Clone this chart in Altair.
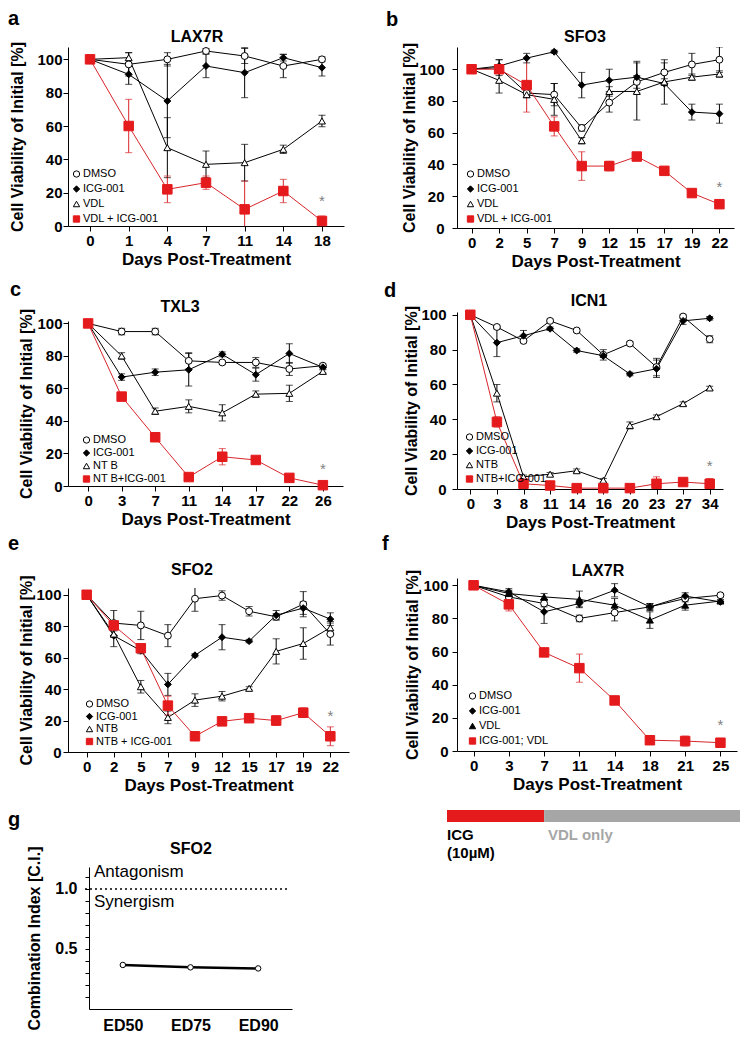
import altair as alt
import pandas as pd

FONT = "Liberation Sans"
RED = "#e41a1c"
RED_LINE = "#d7262b"
STAR_GRAY = "#808080"

# ---------------- Panel a : LAX7R ----------------
a_days = ["0", "1", "4", "7", "11", "14", "18"]
a_names = ["DMSO", "ICG-001", "VDL", "VDL + ICG-001"]
a_dmso = [100, 97, 100, 105, 102, 96, 100]
a_dmso_err = [0, 7, 4, 1.5, 4.5, 7, 1.5]
a_icg = [100, 91, 75, 96, 92, 101, 95]
a_icg_err = [0, 6, 22, 7, 15, 2, 5]
a_vdl = [100, 101, 47, 37, 38, 46, 63]
a_vdl_err = [0, 3, 18, 8, 11, 2.5, 3.5]
a_comb = [100, 60, 22, 26, 10, 21, 3]
a_comb_err = [0, 16, 8, 4, 17, 7, 3]
a_star = 15

# ---------------- Panel b : SFO3 ----------------
b_days = ["0", "2", "5", "7", "9", "12", "15", "17", "19", "22"]
b_names = ["DMSO", "ICG-001", "VDL", "VDL + ICG-001"]
b_dmso = [100, 101, 85, 84, 63, 79, 92, 98, 103, 106]
b_dmso_err = [0, 5, 2, 7, 2, 6, 4, 8, 7, 8]
b_icg = [100, 102, 107, 111, 90, 93, 95, 91, 73, 72]
b_icg_err = [0, 4, 3, 1, 8, 7, 10, 13, 5, 6]
b_vdl = [100, 93, 84, 81, 55, 86, 86, 92, 95, 97]
b_vdl_err = [0, 8, 2, 10, 2, 3, 18, 2, 2, 2]
b_comb = [100, 100, 90, 64, 39, 39, 45, 36, 22, 15]
b_comb_err = [0, 2, 17, 6, 9, 3, 1.5, 1.5, 1, 1]
b_star = 26

# ---------------- Panel c : TXL3 ----------------
c_days = ["0", "3", "7", "11", "14", "17", "22", "26"]
c_names = ["DMSO", "ICG-001", "NT B", "NT B+ICG-001"]
c_dmso = [100, 95, 95, 77, 76, 76, 72, 74]
c_dmso_err = [0, 2, 2, 5, 1, 3, 4, 1]
c_icg = [100, 67, 70, 71.5, 81, 68.5, 81.5, 73]
c_icg_err = [0, 2, 2, 10, 1.5, 4, 6, 1]
c_ntb = [100, 80, 46, 49, 45, 56.5, 57, 70.5]
c_ntb_err = [0, 2, 2, 4, 5, 2, 5, 1]
c_comb = [100, 55, 30, 5.5, 18, 16, 5, 0.5]
c_comb_err = [0, 1, 1, 1, 5, 1, 1, 0.5]
c_star = 10.5

# ---------------- Panel d : ICN1 ----------------
d_days = ["0", "3", "8", "11", "14", "16", "20", "23", "27", "34"]
d_names = ["DMSO", "ICG-001", "NTB", "NTB+ICG-001"]
d_dmso = [100, 93, 85, 96.5, 91, 77, 83.5, 70, 99, 86]
d_dmso_err = [0, 1, 1, 1, 1, 3, 1, 5, 1, 2]
d_icg = [100, 84, 88, 92, 79.5, 76.5, 66, 69, 96.5, 98]
d_icg_err = [0, 8, 3, 1, 1, 1, 1, 5, 2, 1]
d_ntb = [100, 55, 7, 8.5, 10.5, 5, 36.5, 41.5, 49, 58]
d_ntb_err = [0, 5, 1, 1, 1, 1, 2, 1, 1, 1]
d_comb = [100, 38.5, 3, 2, 0.5, 0.5, 0.5, 3, 4, 3]
d_comb_err = [0, 3, 1, 1, 0, 0, 0, 4, 1, 3]
d_star = 13

# ---------------- Panel e : SFO2 ----------------
e_days = ["0", "2", "5", "7", "9", "12", "15", "17", "19", "22"]
e_names = ["DMSO", "ICG-001", "NTB", "NTB + ICG-001"]
e_dmso = [100, 82, 80.5, 74, 97.5, 99.5, 89.5, 86, 94, 75]
e_dmso_err = [0, 8, 9, 7, 8, 3, 3, 2, 8, 7]
e_icg = [100, 74, 64.5, 43, 61.5, 73, 70.5, 87, 91.5, 84.5]
e_icg_err = [0, 7, 2, 7, 1, 8, 1, 3, 4, 4]
e_ntb = [100, 75, 41.5, 22, 33, 35.5, 40.5, 64, 69, 79]
e_ntb_err = [0, 2, 4, 4, 4, 3, 1, 8, 10, 4]
e_comb = [100, 80.5, 66, 29.5, 10, 19.5, 21.5, 20, 25, 10]
e_comb_err = [0, 2, 2, 6, 1, 2, 1.5, 3, 3, 6]
e_star = 23

# ---------------- Panel f : LAX7R ----------------
f_days = ["0", "3", "7", "11", "14", "18", "21", "25"]
f_names = ["DMSO", "ICG-001", "VDL", "ICG-001; VDL"]
f_dmso = [100, 93, 89, 80, 83.5, 87, 92, 94]
f_dmso_err = [0, 1, 2, 2, 5, 2, 2, 1]
f_icg = [100, 96, 84, 89, 97, 87, 93.5, 90]
f_icg_err = [0, 2, 7, 2, 4, 2, 2, 1]
f_vdl = [100, 95, 93, 91.5, 88, 79, 88, 90.5]
f_vdl_err = [0, 2, 2, 5, 4, 5, 3, 1]
f_comb = [100, 88.5, 59.5, 50, 30.5, 6.5, 6, 5]
f_comb_err = [0, 4, 2, 8.5, 1, 1, 3, 1]
f_star = 15.5
f_icg_until = ["7"]          # ICG-001 treatment period ends at day 7

# ---------------- Panel g : SFO2 combination index ----------------
g_keys = ["ED50", "ED75", "ED90"]
g_ci = [0.367, 0.347, 0.338]
g_threshold = [1.0]

SHAPES = ["circle", "diamond", "triangle-up", "square"]
FILLS = ["white", "black", "white", RED]
FILLS_F = ["white", "black", "black", RED]
STROKES = ["black", "black", "black", RED]
LINE_COLORS = ["black", "black", "black", RED_LINE]

YTICKS = [0, 20, 40, 60, 80, 100]


def txt(s, x, y, size, weight="bold", align="left", color="black", baseline="alphabetic", opacity=1):
    return alt.Chart(pd.DataFrame({"t": [s]})).mark_text(
        align=align, baseline=baseline, fontSize=size, fontWeight=weight,
        font=FONT, color=color, opacity=opacity
    ).encode(x=alt.value(x), y=alt.value(y), text="t:N")


def panel(days, names, vals, errs, star, letter, title, W, H, ymax, pad,
          letter_xy, title_xy, top, leg_xy, leg_row, lab_pad, ttl_pad,
          fills=FILLS, extra=None):
    rows = []
    for si, (n, v, e) in enumerate(zip(names, vals, errs)):
        for i, (d, vv, ee) in enumerate(zip(days, v, e)):
            rows.append({"d": d, "i": i, "s": n, "lc": LINE_COLORS[si], "v": vv,
                         "lo": vv - ee, "hi": vv + ee, "e": ee})
    df = pd.DataFrame(rows)
    edf = df[df.e > 0]

    xaxis = alt.Axis(title="Days Post-Treatment", labelAngle=0, labelFontSize=15,
                     labelFontWeight="bold", tickSize=5, labelPadding=2,
                     titleFontSize=17, titleFontWeight="bold", titlePadding=3,
                     labelOverlap=False)
    yaxis = alt.Axis(title="Cell Viability of Initial [%]", values=YTICKS,
                     labelFontSize=15, labelFontWeight="bold", tickSize=5,
                     labelPadding=lab_pad, titleFontSize=16, titleFontWeight="bold",
                     titlePadding=ttl_pad)
    xs = alt.Scale(type="point", domain=days, padding=pad)
    ys = alt.Scale(domain=[0, ymax], nice=False)

    def X():
        return alt.X("d:O", scale=xs, axis=xaxis)

    def Y(f):
        return alt.Y(f + ":Q", scale=ys, axis=yaxis)

    col = alt.Color("lc:N", scale=None)
    leg = alt.Legend(title=None, orient="none", legendX=leg_xy[0], legendY=leg_xy[1],
                     labelFont=FONT, labelFontSize=11, symbolSize=40, symbolStrokeWidth=1,
                     rowPadding=leg_row, padding=0, labelOffset=1, offset=0)

    lines = alt.Chart(df).mark_line(strokeWidth=1).encode(
        x=X(), y=Y("v"), color=col, detail="s:N", order=alt.Order("i:Q"))
    bars = alt.Chart(edf).mark_rule(strokeWidth=1, clip=True).encode(
        x=X(), y=Y("lo"), y2="hi:Q", color=col)
    cap_lo = alt.Chart(edf).mark_tick(orient="horizontal", size=7, thickness=1, clip=True).encode(
        x=X(), y=Y("lo"), color=col)
    cap_hi = alt.Chart(edf).mark_tick(orient="horizontal", size=7, thickness=1, clip=True).encode(
        x=X(), y=Y("hi"), color=col)
    pts = alt.Chart(df).mark_point(opacity=1, strokeWidth=1).encode(
        x=X(), y=Y("v"),
        shape=alt.Shape("s:N", scale=alt.Scale(domain=names, range=SHAPES), legend=leg),
        fill=alt.Fill("s:N", scale=alt.Scale(domain=names, range=fills), legend=leg),
        stroke=alt.Stroke("s:N", scale=alt.Scale(domain=names, range=STROKES), legend=leg),
        size=alt.condition(f"datum.s == '{names[3]}'", alt.value(90), alt.value(48)),
    )
    st = alt.Chart(pd.DataFrame({"d": [days[-1]], "v": [star]})).mark_text(
        text="*", fontSize=15, color=STAR_GRAY, baseline="middle", font=FONT
    ).encode(x=X(), y=Y("v"))

    layers = [lines, bars, cap_lo, cap_hi, pts, st,
              txt(letter, letter_xy[0], letter_xy[1], 20),
              txt(title, title_xy[0], title_xy[1], 16, align="center"),
              txt(".", W / 2, -top, 4, baseline="top", opacity=0)]
    if extra:
        layers += extra
    return alt.layer(*layers).properties(width=W, height=H)


pa = panel(a_days, a_names, [a_dmso, a_icg, a_vdl, a_comb],
           [a_dmso_err, a_icg_err, a_vdl_err, a_comb_err], a_star,
           "a", "LAX7R", 276, 179, 107.4, 0.57, (-60, -22), (129, -5), 39,
           (3, 121.5), 3, 1, 11)
pb = panel(b_days, b_names, [b_dmso, b_icg, b_vdl, b_comb],
           [b_dmso_err, b_icg_err, b_vdl_err, b_comb_err], b_star,
           "b", "SFO3", 277, 181, 114, 0.53, (-71, -21), (128, -5), 39,
           (8, 121.5), 3, 8, 1)
pc = panel(c_days, c_names, [c_dmso, c_icg, c_ntb, c_comb],
           [c_dmso_err, c_icg_err, c_ntb_err, c_comb_err], c_star,
           "c", "TXL3", 275, 165, 101.5, 0.6, (-58, -25), (112, -9), 54,
           (13, 113.5), 1, 1, 2)
pd_ = panel(d_days, d_names, [d_dmso, d_icg, d_ntb, d_comb],
            [d_dmso_err, d_icg_err, d_ntb_err, d_comb_err], d_star,
            "d", "ICN1", 266, 177, 101.6, 0.5, (-73, -15), (132, -6), 43,
            (7, 119.5), 2, 6, 1)
pe = panel(e_days, e_names, [e_dmso, e_icg, e_ntb, e_comb],
           [e_dmso_err, e_icg_err, e_ntb_err, e_comb_err], e_star,
           "e", "SFO2", 281, 164, 104.3, 0.69, (-60, -38), (124, -13), 61,
           (16, 110.5), 0.5, 2, 1)

# treatment bar under panel f
f_bar_df = pd.DataFrame({"d": f_icg_until})
f_xs = alt.Scale(type="point", domain=f_days, padding=0.47)
f_red = alt.Chart(f_bar_df).mark_rect(color=RED).encode(
    x=alt.X("d:O", scale=f_xs), x2=alt.value(-10), y=alt.value(232), y2=alt.value(244))
f_gray = alt.Chart(f_bar_df).mark_rect(color="#a6a6a6").encode(
    x=alt.X("d:O", scale=f_xs), x2=alt.value(283), y=alt.value(232), y2=alt.value(244))
f_extra = [f_red, f_gray,
           txt("ICG", -10, 262, 15),
           txt("(10\u00b5M)", -10, 280, 15),
           txt("VDL only", 91, 262, 15, color="#a6a6a6")]

pf = panel(f_days, f_names, [f_dmso, f_icg, f_vdl, f_comb],
           [f_dmso_err, f_icg_err, f_vdl_err, f_comb_err], f_star,
           "f", "LAX7R", 280, 173, 104.4, 0.47, (-75, -28), (141, -2), 48,
           (10, 112.5), 3, 4, 2, fills=FILLS_F, extra=f_extra)

# ---------------- panel g ----------------
g_df = pd.DataFrame({"k": g_keys, "v": g_ci})
g_xs = alt.Scale(type="point", domain=g_keys, range=[21, 224], padding=0.5)
g_ys = alt.Scale(domain=[0, 1.183], nice=False)
g_yaxis = alt.Axis(title="Combination Index [C.I.]", values=[round(0.1 * i, 1) for i in range(1, 12)],
                   labelExpr="(datum.value == 0.5 || datum.value == 1) ? format(datum.value, '.1f') : ''",
                   offset=-21, tickSize=4, labelPadding=8, labelFontSize=16, labelFontWeight="bold",
                   titleFontSize=16, titleFontWeight="bold", titlePadding=12)
g_xaxis = alt.Axis(title=None, labelAngle=0, ticks=False, labelPadding=8, labelFontSize=16,
                   labelFontWeight="bold")
gX = alt.X("k:O", scale=g_xs, axis=g_xaxis)
gline = alt.Chart(g_df).mark_line(color="black", strokeWidth=2.5).encode(
    x=gX, y=alt.Y("v:Q", scale=g_ys, axis=g_yaxis))
gpts = alt.Chart(g_df).mark_point(shape="circle", size=30, fill="white", stroke="black",
                                  strokeWidth=1, opacity=1).encode(
    x=gX, y=alt.Y("v:Q", scale=g_ys, axis=g_yaxis))
gref = alt.Chart(pd.DataFrame({"r": g_threshold})).mark_rule(
    color="black", strokeDash=[2, 3], strokeWidth=1.5).encode(
    x=alt.value(17), x2=alt.value(219), y=alt.Y("r:Q", scale=g_ys, axis=g_yaxis))
pg = alt.layer(
    gref, gline, gpts,
    txt("Antagonism", 26, 10, 17, weight="normal"),
    txt("Synergism", 26, 40, 17, weight="normal"),
    txt("g", -60, -41, 20),
    txt("SFO2", 123, -13, 16, align="center"),
    txt(".", 112, -74, 4, baseline="top", opacity=0),
).properties(width=224, height=142)

IND = dict(x="independent", y="independent", fill="independent",
           stroke="independent", shape="independent")

left = alt.vconcat(pa, pc, pe, pg, spacing=0).resolve_scale(**IND)
right = alt.vconcat(pb, pd_, pf, spacing=0).resolve_scale(**IND)
chart = alt.hconcat(left, right, spacing=33).resolve_scale(**IND).properties(padding=0)

chart = chart.configure_view(stroke=None).configure_axis(
    domainColor="black", tickColor="black", labelColor="black", titleColor="black",
    labelFont=FONT, titleFont=FONT, grid=False, domainWidth=1, tickWidth=1)

chart.save("out.html", embed_options={"renderer": "svg", "actions": False})
